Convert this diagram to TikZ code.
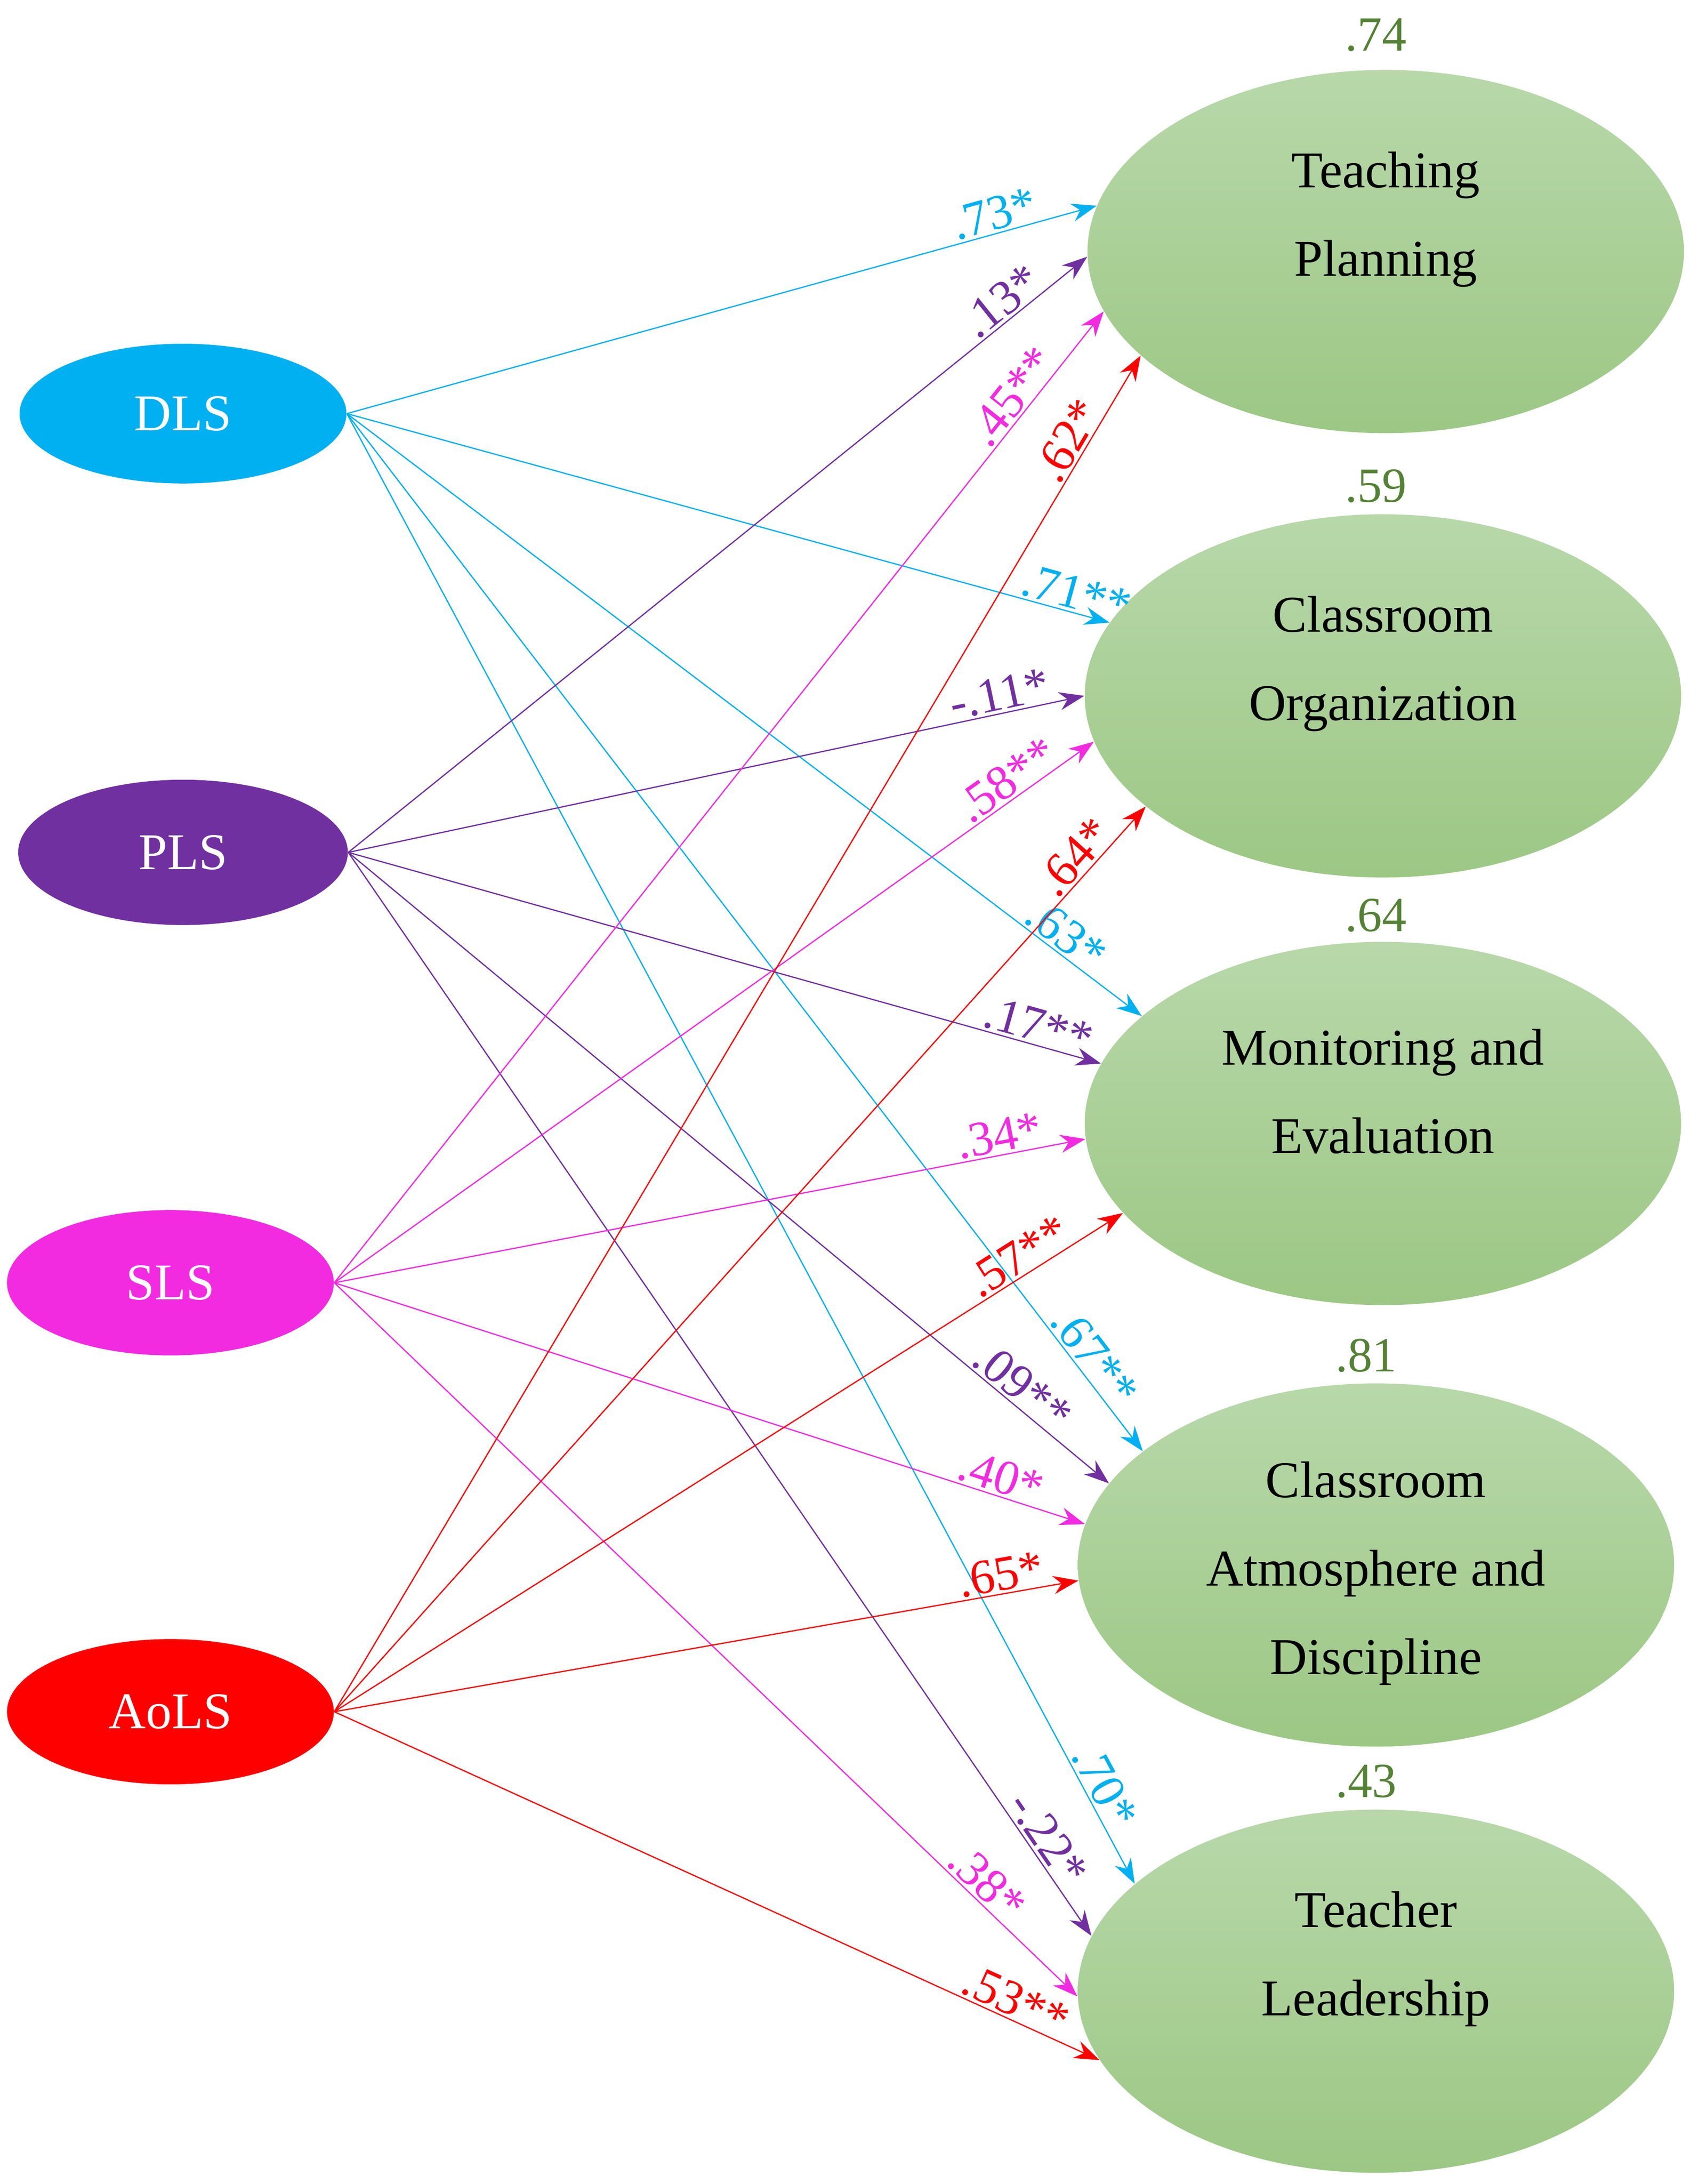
\documentclass[tikz,border=0pt]{standalone}
\usepackage{fontspec}
\setmainfont{Liberation Serif}
\usetikzlibrary{shapes.geometric,arrows.meta}
\definecolor{cDLS}{HTML}{00B0F0}
\definecolor{cPLS}{HTML}{7030A0}
\definecolor{cSLS}{HTML}{F22BE0}
\definecolor{cAoLS}{HTML}{FF0000}
\definecolor{gtop}{HTML}{B8D8AA}
\definecolor{gbot}{HTML}{9CC784}
\definecolor{gtext}{HTML}{548235}
\begin{document}
\begin{tikzpicture}[x=0.02cm,y=-0.02cm,
  src/.style={ellipse,inner sep=0,text=white,font=\fontsize{21}{25}\selectfont},
  dst/.style={ellipse,inner sep=0,minimum width=8.54cm,minimum height=5.2cm,top color=gtop,bottom color=gbot,draw=none},
  txt/.style={align=center,inner sep=0,font=\fontsize{21}{36}\selectfont},
  r2/.style={text=gtext,font=\fontsize{20}{24}\selectfont},
  e/.style={-{Stealth[length=0.36cm,width=0.26cm]},line width=0.5pt},
  lb/.style={sloped,above,inner sep=1pt,font=\fontsize{20}{24}\selectfont}]
\useasboundingbox (0,0) rectangle (1216,1563);
\node[src,fill=cDLS,minimum width=4.68cm,minimum height=2.0cm] (DLS) at (131,296) {DLS};
\node[src,fill=cPLS,minimum width=4.72cm,minimum height=2.08cm] (PLS) at (131,610) {PLS};
\node[src,fill=cSLS,minimum width=4.68cm,minimum height=2.08cm] (SLS) at (122,918) {SLS};
\node[src,fill=cAoLS,minimum width=4.68cm,minimum height=2.08cm] (AoLS) at (122,1225) {AoLS};
\node[dst] (TP) at (992,180) {};
\node[dst] (CO) at (990,498) {};
\node[dst] (ME) at (990,804) {};
\node[dst] (CAD) at (985,1120) {};
\node[dst] (TL) at (985,1425) {};
\node[txt] (tTP) at (992,157) {Teaching\\Planning};
\node[txt] (tCO) at (990,475) {Classroom\\Organization};
\node[txt] (tME) at (990,781) {Monitoring and\\Evaluation};
\node[txt] (tCAD) at (985,1126) {Classroom\\Atmosphere and\\Discipline};
\node[txt] (tTL) at (985,1402) {Teacher\\Leadership};
\node[r2] (r1) at (985,25) {.74};
\node[r2] (r2n) at (985,348) {.59};
\node[r2] (r3) at (985,655) {.64};
\node[r2] (r4) at (978,970) {.81};
\node[r2] (r5) at (978,1275) {.43};
\begin{scope}[cDLS]
\draw[e] (DLS.east) -- node[lb,pos=0.87]{.73*} (TP.171.5);
\draw[e] (DLS.east) -- node[lb,pos=0.95]{.71**} (CO.165);
\draw[e] (DLS.east) -- node[lb,pos=0.89]{.63*} (ME.156);
\draw[e] (DLS.east) -- node[lb,pos=0.92]{.67**} (CAD.154);
\draw[e] (DLS.east) -- node[lb,pos=0.94]{.70*} (TL.156);
\end{scope}
\begin{scope}[cPLS]
\draw[e] (PLS.east) -- node[lb,pos=0.9]{.13*} (TP.181);
\draw[e] (PLS.east) -- node[lb,pos=0.89]{-.11*} (CO.180);
\draw[e] (PLS.east) -- node[lb,pos=0.91]{.17**} (ME.168);
\draw[e] (PLS.east) -- node[lb,pos=0.87]{.09**} (CAD.163);
\draw[e] (PLS.east) -- node[lb,pos=0.92]{-.22*} (TL.169);
\end{scope}
\begin{scope}[cSLS]
\draw[e] (SLS.east) -- node[lb,pos=0.9]{.45**} (TP.192);
\draw[e] (SLS.east) -- node[lb,pos=0.9]{.58**} (CO.189);
\draw[e] (SLS.east) -- node[lb,pos=0.89]{.34*} (ME.183);
\draw[e] (SLS.east) -- node[lb,pos=0.88]{.40*} (CAD.172);
\draw[e] (SLS.east) -- node[lb,pos=0.86]{.38*} (TL.181);
\end{scope}
\begin{scope}[cAoLS]
\draw[e] (AoLS.east) -- node[lb,pos=0.93]{.62*} (TP.203);
\draw[e] (AoLS.east) -- node[lb,pos=0.93]{.64*} (CO.205);
\draw[e] (AoLS.east) -- node[lb,pos=0.88]{.57**} (ME.199);
\draw[e] (AoLS.east) -- node[lb,pos=0.9]{.65*} (CAD.183);
\draw[e] (AoLS.east) -- node[lb,pos=0.88]{.53**} (TL.194);
\end{scope}
\end{tikzpicture}
\end{document}
